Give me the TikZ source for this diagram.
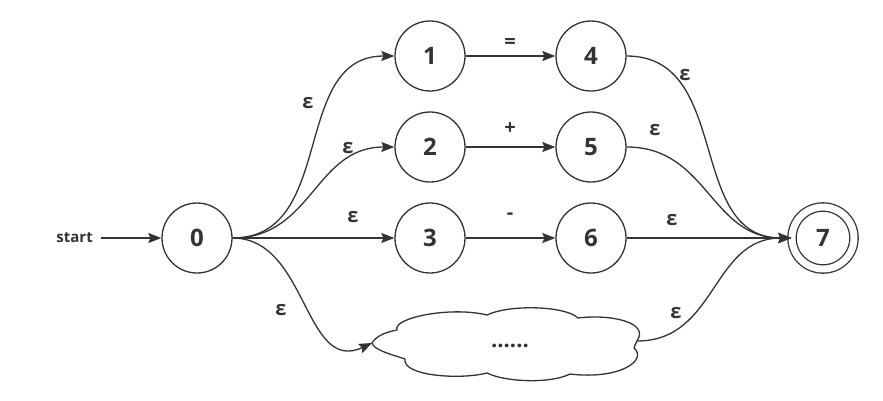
\documentclass[tikz,border=0pt]{standalone}
\usepackage{fontspec}
\setmainfont{Open Sans}
\usetikzlibrary{arrows.meta}
\definecolor{ink}{HTML}{333333}
\tikzset{
  state/.style={circle,draw=ink,line width=1.3pt,minimum size=70pt,inner sep=0pt,
    font=\fontsize{24}{24}\selectfont\bfseries,text=ink},
  accept/.style={state,double=white,double distance=7pt,minimum size=62pt},
  lbl/.style={font=\fontsize{20}{20}\selectfont\bfseries,text=ink,inner sep=0pt},
  edge/.style={draw=ink,line width=1.3pt,-{Stealth[inset=2pt,length=13pt,width=10pt]}},
  outline/.style={draw=ink,line width=1.3pt,line join=round},
}
\begin{document}
\begin{tikzpicture}[x=1pt,y=-1pt]
\useasboundingbox (0,0) rectangle (883,400);

% states
\node[state] (s0) at (197,238) {0};
\node[state] (s1) at (430,56) {1};
\node[state] (s2) at (430,147) {2};
\node[state] (s3) at (430,238) {3};
\node[state] (s4) at (591,56) {4};
\node[state] (s5) at (591,147) {5};
\node[state] (s6) at (591,238) {6};
\node[accept] (s7) at (823,238) {7};

% the cloud standing for the remaining branches
\coordinate (rw) at (372,343);
\coordinate (re) at (637,341);
\draw[outline] (rw)
  .. controls (376,336) and (386,332) .. (397,330)
  .. controls (392,318) and (450,306) .. (487,315)
  .. controls (510,304) and (566,306) .. (578,318)
  .. controls (610,314) and (650,322) .. (re)
  .. controls (636,344) and (634,346) .. (634,348)
  .. controls (648,360) and (620,380) .. (570,374)
  .. controls (550,384) and (505,382) .. (487,373)
  .. controls (460,380) and (402,376) .. (405,359)
  .. controls (390,354) and (374,350) .. (rw) -- cycle;
\node[lbl,font=\fontsize{22}{22}\selectfont\bfseries] (dots) at (510,346) {......};

% start arrow
\node[lbl,font=\fontsize{15}{15}\selectfont\bfseries,anchor=east] (start) at (93,238) {start};
\coordinate (st) at (101,238);
\draw[edge] (st) -- (s0);

% epsilon moves out of 0
\draw[edge] (s0.east) to[out=0,in=180,looseness=1.1] (s1.west);
\draw[edge] (s0.east) to[out=0,in=180,looseness=1.1] (s2.west);
\draw[edge] (s0.east) -- (s3.west);
\draw[edge] (s0.east) to[out=0,in=205,looseness=1.1] (rw);

% symbol moves
\draw[edge] (s1) -- (s4);
\draw[edge] (s2) -- (s5);
\draw[edge] (s3) -- (s6);

% epsilon moves into 7
\draw[edge] (s4.east) to[out=0,in=180,looseness=1.1] (s7.west);
\draw[edge] (s5.east) to[out=0,in=180,looseness=1.1] (s7.west);
\draw[edge] (s6) -- (s7);
\draw[edge] (re) to[out=0,in=180,looseness=1.1] (s7.west);

% labels
\node[lbl] (e01) at (308,103) {ε};
\node[lbl] (e02) at (348,148) {ε};
\node[lbl] (e03) at (353,217) {ε};
\node[lbl] (e0r) at (281,310) {ε};
\node[lbl] (l14) at (510,43) {=};
\node[lbl] (l25) at (510,129) {+};
\node[lbl] (l36) at (510,216) {-};
\node[lbl] (e47) at (685,75) {ε};
\node[lbl] (e57) at (655,130) {ε};
\node[lbl] (e67) at (672,220) {ε};
\node[lbl] (er7) at (676,313) {ε};
\end{tikzpicture}
\end{document}
